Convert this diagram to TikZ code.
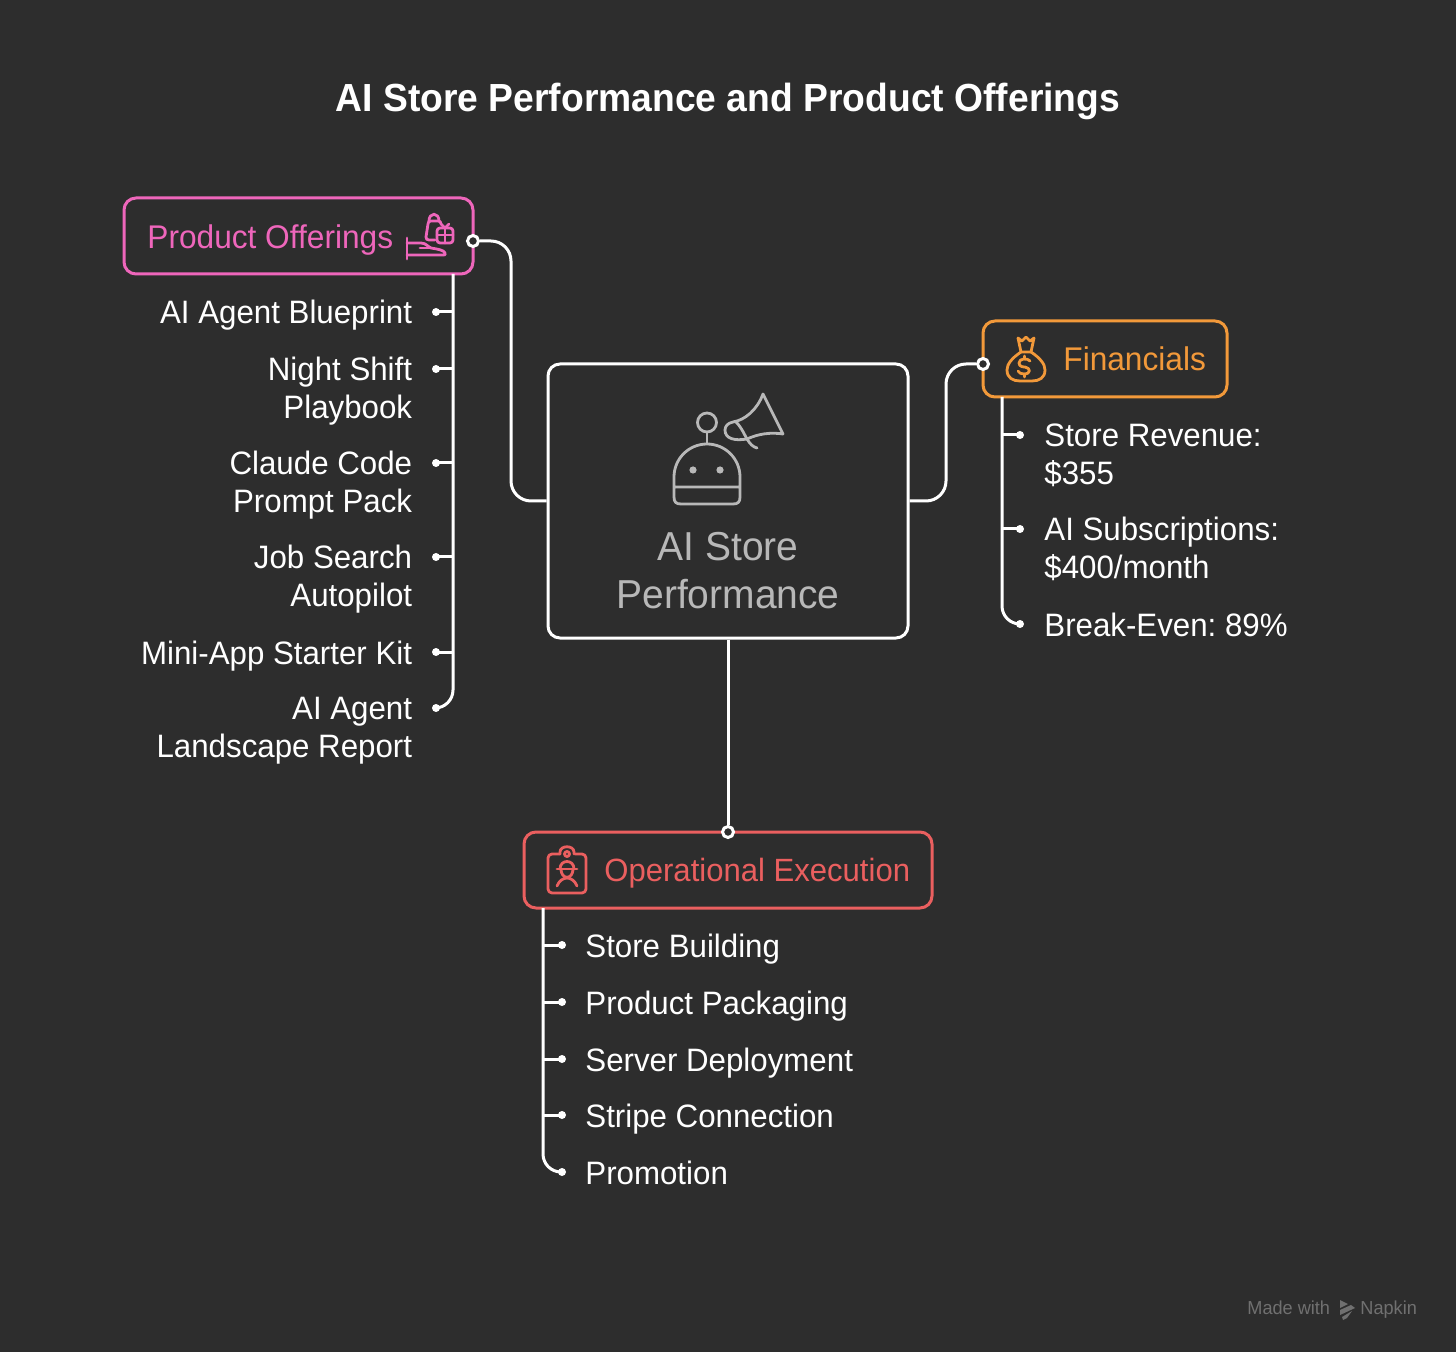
\documentclass[tikz,border=0pt]{standalone}
\usepackage{fontspec}
\setmainfont[FakeStretch=0.965, BoldFeatures={FakeStretch=0.95}]{Liberation Sans}
\frenchspacing
\definecolor{bgdark}{HTML}{2D2D2D}
\definecolor{offerpink}{HTML}{EE66BB}
\definecolor{moneyorange}{HTML}{F2993A}
\definecolor{execred}{HTML}{EA5F5F}
\definecolor{maingrey}{HTML}{B8B8B8}
\definecolor{markgrey}{HTML}{707070}
\tikzset{
    catbox/.style={draw, line width=1.5pt, rounded corners=6pt, inner sep=0pt},
    catlabel/.style={inner sep=0pt, font=\fontsize{16.4}{19}\selectfont},
    itemtext/.style={inner sep=0pt, text=white, font=\fontsize{16.2}{19}\selectfont, execute at begin node=\strut},
    itemdot/.style={circle, fill=white, inner sep=0pt, minimum size=4pt},
    opendot/.style={circle, draw=white, fill=bgdark, line width=1.5pt, inner sep=0pt, minimum size=5.5pt},
    link/.style={draw=white, line width=1.5pt, rounded corners=10pt},
    iconline/.style={line width=1.4pt, line cap=round, line join=round}
}
\begin{document}
\begin{tikzpicture}[x=0.5pt, y=-0.5pt]
    \fill[bgdark] (0,0) rectangle (1456,1352);
    \node[inner sep=0pt, text=white, font=\fontsize{19.6}{24}\selectfont\bfseries] (title) at (728,101) {AI Store Performance and Product Offerings};

    % boxes
    \node[catbox, draw=white, minimum width=180pt, minimum height=137pt] (mainbox) at (728,501) {};
    \node[catbox, draw=offerpink, minimum width=174.5pt, minimum height=38pt] (offerbox) at (298.5,236) {};
    \node[catbox, draw=moneyorange, minimum width=122pt, minimum height=38pt] (moneybox) at (1105,359) {};
    \node[catbox, draw=execred, minimum width=204pt, minimum height=38pt] (execbox) at (728,870) {};

    \node[inner sep=0pt, text=maingrey, align=center, font=\fontsize{20.2}{24}\selectfont] (maintext) at (728,571) {AI Store\\Performance};
    \node[catlabel, text=offerpink, anchor=west] (offertext) at (147,240) {Product Offerings};
    \node[catlabel, text=moneyorange, anchor=west] (moneytext) at (1063,359) {Financials};
    \node[catlabel, text=execred, anchor=west, font=\fontsize{16.1}{19}\selectfont] (exectext) at (604,873) {Operational Execution};

    % left list
    \coordinate (offertrunk) at (453,274);
    \foreach \i/\ypos/\ytop/\itemname in {1/312/297/{AI Agent Blueprint}, 2/369/357/{Night Shift\\Playbook}, 3/463/451/{Claude Code\\Prompt Pack}, 4/557/545/{Job Search\\Autopilot}, 5/652/637/{Mini-App Starter Kit}, 6/708/697/{AI Agent\\Landscape Report}}
    {
        \node[itemdot] (offerdot-\i) at (436,\ypos) {};
        \node[itemtext, anchor=north east, align=right] (offeritem-\i) at (412.5,\ytop) {\itemname};
    }
    \foreach \i in {1,...,5}
        \draw[link] (offerdot-\i.center) -- (offerdot-\i.center -| offertrunk);
    \draw[link, rounded corners=9pt] (offertrunk) |- (offerdot-6.center);

    % right list
    \coordinate (moneytrunk) at (1002,397);
    \foreach \i/\ypos/\ytop/\itemname in {1/435/423/{Store Revenue:\\\$355}, 2/529/517/{AI Subscriptions:\\\$400/month}, 3/624/609/{Break-Even: 89\%}}
    {
        \node[itemdot] (moneydot-\i) at (1020,\ypos) {};
        \node[itemtext, anchor=north west, align=left] (moneyitem-\i) at (1044,\ytop) {\itemname};
    }
    \foreach \i in {1,2}
        \draw[link] (moneydot-\i.center) -- (moneydot-\i.center -| moneytrunk);
    \draw[link, rounded corners=9pt] (moneytrunk) |- (moneydot-3.center);

    % bottom list
    \coordinate (exectrunk) at (543,908);
    \foreach \i/\ypos/\itemname in {1/945/{Store Building}, 2/1002/{Product Packaging}, 3/1059/{Server Deployment}, 4/1115/{Stripe Connection}, 5/1172/{Promotion}}
    {
        \node[itemdot] (execdot-\i) at (562,\ypos) {};
        \node[itemtext, anchor=north west, align=left] (execitem-\i) at (585,\ypos-15) {\itemname};
    }
    \foreach \i in {1,...,4}
        \draw[link] (execdot-\i.center) -- (execdot-\i.center -| exectrunk);
    \draw[link, rounded corners=9pt] (exectrunk) |- (execdot-5.center);

    % connectors
    \coordinate (offerbend) at (511,370);
    \coordinate (moneybend) at (946,430);
    \node[opendot] (offerport) at (473,241) {};
    \node[opendot] (moneyport) at (983,364) {};
    \node[opendot] (execport) at (728,832) {};
    \draw[link] (offerport) -| (offerbend) |- (mainbox.west);
    \draw[link] (moneyport) -| (moneybend) |- (mainbox.east);
    \draw[link] (mainbox.south) -- (execport);

    % robot and megaphone
    \begin{scope}[draw=maingrey, iconline]
        \draw (707,422.5) circle[radius=9.5];
        \draw (707,432) -- (707,443);
        \draw (674,487) -- (674,477) arc[start angle=180, end angle=360, radius=33] -- (740,497) .. controls (740,502) and (738,504) .. (733,504) -- (681,504) .. controls (676,504) and (674,502) .. (674,497) -- (674,487) -- (740,487);
        \fill[maingrey] (693,470) circle[radius=3.6] (720,470) circle[radius=3.6];
        \draw (733,422) .. controls (745,420) and (757,410) .. (763,394) -- (783,434) .. controls (770,432) and (758,434) .. (747,439) .. controls (735,441) and (725,439) .. (725,430) .. controls (725,426) and (728,423) .. (733,422);
        \draw (736,422) .. controls (742,428) and (745,436) .. (747,439) .. controls (750,444) and (753,447) .. (757,448);
    \end{scope}

    % hand with gifts
    \begin{scope}[draw=offerpink, iconline]
        \draw (407,238) -- (407,259);
        \draw (407,243) -- (421,243) .. controls (426,243) and (428,247) .. (431,248) .. controls (437,249) and (444,250) .. (445,253) .. controls (446,255) and (445,255) .. (443,255) -- (407,255);
        \draw (420,248) -- (431,248);
        \draw (435,240) -- (429,240) .. controls (427,240) and (426,239) .. (426,237) -- (428,224) .. controls (428,222) and (429,221) .. (431,221) -- (438,221) .. controls (440,221) and (441,222) .. (441,224);
        \draw (429,221) .. controls (429,212) and (439,212) .. (439,221);
        \draw[rounded corners=1.5pt] (437,228) rectangle (453,243);
        \draw (437,235) -- (453,235) (445,228) -- (445,243);
        \draw (441,224) -- (445,228) -- (449,224);
    \end{scope}

    % money bag
    \begin{scope}[draw=moneyorange, iconline]
        \draw (1021,352) .. controls (1012,358) and (1007,364) .. (1007,370) .. controls (1007,378) and (1013,381) .. (1020,381) -- (1032,381) .. controls (1039,381) and (1045,378) .. (1045,370) .. controls (1045,364) and (1040,358) .. (1031,352) -- cycle;
        \draw (1021,352) -- (1018,338) -- (1022,341) -- (1026,337) -- (1030,341) -- (1034,338) -- (1031,352);
        \draw (1030,361) .. controls (1028,358) and (1019,358) .. (1019,363) .. controls (1019,367) and (1024,367) .. (1025,367) .. controls (1031,368) and (1031,374) .. (1024,374) .. controls (1021,374) and (1019,373) .. (1018,371);
        \draw (1024.5,356) -- (1024.5,359) (1024.5,374) -- (1024.5,377);
    \end{scope}

    % clipboard with worker
    \begin{scope}[draw=execred, iconline]
        \draw[rounded corners=2pt] (560,854) -- (548,854) -- (548,893) -- (586,893) -- (586,854) -- (575,854);
        \draw (560,854) -- (560,852) .. controls (560,845) and (574,845) .. (574,852) -- (574,854);
        \draw (567,854) circle[radius=2.5];
        \draw (557,869) -- (577,869);
        \draw (560,869) .. controls (560,859) and (574,859) .. (574,869);
        \draw (561,869) .. controls (561,880) and (573,880) .. (573,869);
        \draw (557,886) .. controls (559,881) and (563,878) .. (567,878) .. controls (571,878) and (575,881) .. (577,886);
    \end{scope}

    % napkin mark
    \node[inner sep=0pt, anchor=base west, text=markgrey, font=\fontsize{9.4}{11}\selectfont] (madewith) at (1247,1314) {Made with};
    \node[inner sep=0pt, anchor=base west, text=markgrey, font=\fontsize{9.4}{11}\selectfont] (napkin) at (1360,1314) {Napkin};
    \fill[markgrey] (1340,1300) -- (1348,1304) -- (1340,1308) -- cycle;
    \fill[markgrey] (1340,1310) -- (1351,1305) -- (1355,1308) -- (1340,1315) -- cycle;
    \fill[markgrey] (1342,1317) -- (1352,1311) -- (1347,1318) -- (1343,1320) -- cycle;
\end{tikzpicture}
\end{document}
